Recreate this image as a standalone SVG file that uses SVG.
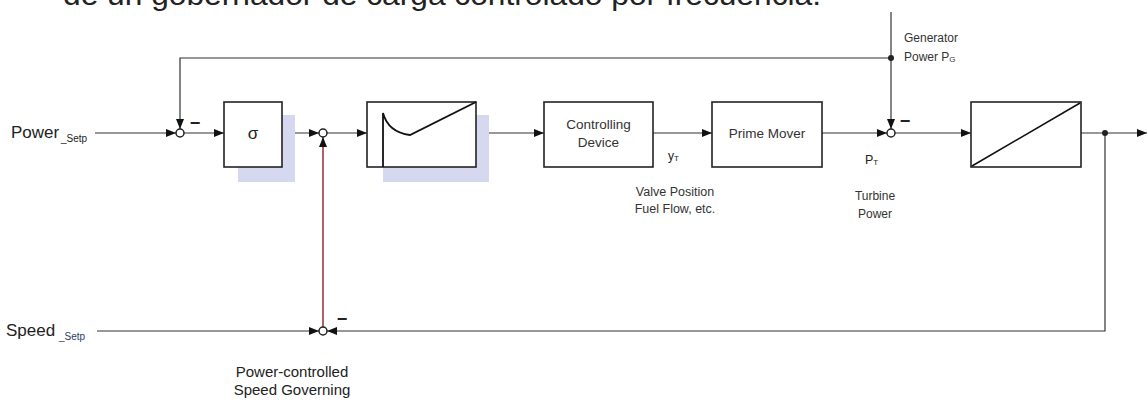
<svg xmlns="http://www.w3.org/2000/svg" width="1148" height="405" viewBox="0 0 1148 405">
<defs>
<style>
.box{fill:#fff;stroke:#222;stroke-width:1.6}
.shadow{fill:#d5d8ee}
.ln{fill:none;stroke:#333;stroke-width:1.2}
.red{fill:none;stroke:#8b1e2c;stroke-width:1.4}
.jn{fill:#fff;stroke:#222;stroke-width:1.5}
.dot{fill:#222}
.t{font-family:"Liberation Sans",Arial,sans-serif;fill:#222}
.minus{font-family:"Liberation Sans",Arial,sans-serif;fill:#222;font-size:18px;font-weight:bold;text-anchor:middle}
</style>
<marker id="ar" markerUnits="userSpaceOnUse" markerWidth="10" markerHeight="8" refX="10" refY="4" orient="auto">
<path d="M0,0 L10,4 L0,8 z" fill="#111"/>
</marker>
</defs>
<rect width="1148" height="405" fill="#fff"/>

<text class="t" x="63" y="5" font-size="30" textLength="758" lengthAdjust="spacingAndGlyphs">de un gobernador de carga controlado por frecuencia.</text>

<g id="connectors">
<path class="ln" d="M95,133 H176" marker-end="url(#ar)"/>
<path class="ln" d="M891,58 H180 V129" marker-end="url(#ar)"/>
<path class="ln" d="M184,133 H224" marker-end="url(#ar)"/>
<path class="ln" d="M282,133 H319" marker-end="url(#ar)"/>
<path class="red" d="M323,327 V137" marker-end="url(#ar)"/>
<path class="ln" d="M327,133 H367" marker-end="url(#ar)"/>
<path class="ln" d="M476,133 H544" marker-end="url(#ar)"/>
<path class="ln" d="M653,133 H712" marker-end="url(#ar)"/>
<path class="ln" d="M822,133 H887" marker-end="url(#ar)"/>
<path class="ln" d="M891,12 V129" marker-end="url(#ar)"/>
<path class="ln" d="M895,133 H971" marker-end="url(#ar)"/>
<path class="ln" d="M1081,133 H1147" marker-end="url(#ar)"/>
<path class="ln" d="M1105,133 V331 H327" marker-end="url(#ar)"/>
<path class="ln" d="M97,331 H319" marker-end="url(#ar)"/>
<circle class="dot" cx="891" cy="58" r="3"/>
<circle class="dot" cx="1105" cy="133" r="3"/>
</g>

<g id="power-setp">
<text class="t" x="11" y="138" font-size="17">Power</text>
<text class="t" x="61" y="142" font-size="10" fill="#444">_Setp</text>
</g>
<g id="speed-setp">
<text class="t" x="6" y="336" font-size="17">Speed</text>
<text class="t" x="59" y="340" font-size="10" style="fill:#2d3a66">_Setp</text>
</g>

<g id="sum1">
<circle class="jn" cx="180" cy="133" r="4"/>
<text class="minus" x="195" y="129">−</text>
</g>

<g id="sigma">
<rect class="shadow" x="238" y="115" width="57" height="67"/>
<rect class="box" x="224" y="102" width="58" height="65"/>
<text class="t" x="253" y="139" font-size="17" text-anchor="middle">σ</text>
</g>

<g id="sum2">
<circle class="jn" cx="323" cy="133" r="4"/>
</g>

<g id="transient">
<rect class="shadow" x="383" y="115" width="106" height="67"/>
<rect class="box" x="367" y="102" width="109" height="65"/>
<path fill="none" stroke="#111" stroke-width="1.8" d="M383,167 V113 C386,124 394,133 410,135 L476,102"/>
</g>

<g id="controlling-device">
<rect class="box" x="544" y="102" width="109" height="65"/>
<text class="t" x="598.5" y="129" font-size="13.5" text-anchor="middle" style="fill:#333">Controlling</text>
<text class="t" x="598.5" y="147" font-size="13.5" text-anchor="middle" style="fill:#333">Device</text>
</g>

<g id="prime-mover">
<rect class="box" x="712" y="102" width="110" height="65"/>
<text class="t" x="767" y="138" font-size="13.5" text-anchor="middle" style="fill:#333">Prime Mover</text>
</g>

<g id="sum4">
<circle class="jn" cx="891" cy="133" r="4"/>
<text class="minus" x="905" y="127">−</text>
</g>

<g id="integrator">
<rect class="box" x="971" y="102" width="110" height="65"/>
<path fill="none" stroke="#111" stroke-width="1.6" d="M972,166 L1080,103"/>
</g>

<g id="sum3">
<circle class="jn" cx="323" cy="331" r="4"/>
<text class="minus" x="342" y="325">−</text>
</g>

<g id="labels">
<text class="t" x="668" y="160" font-size="12">y<tspan font-size="8" dy="1">T</tspan></text>
<text class="t" x="675" y="196" font-size="12.5" text-anchor="middle" style="fill:#333">Valve Position</text>
<text class="t" x="675" y="213" font-size="12.5" text-anchor="middle" style="fill:#333">Fuel Flow, etc.</text>
<text class="t" x="865" y="164" font-size="12.5">P<tspan font-size="8" dy="1">T</tspan></text>
<text class="t" x="875" y="200" font-size="12" text-anchor="middle" style="fill:#333">Turbine</text>
<text class="t" x="875" y="218" font-size="12" text-anchor="middle" style="fill:#333">Power</text>
<text class="t" x="904" y="42" font-size="12" style="fill:#333">Generator</text>
<text class="t" x="904" y="61" font-size="12" style="fill:#333">Power  P<tspan font-size="8" dy="1">G</tspan></text>
<text class="t" x="292" y="377" font-size="15" text-anchor="middle">Power-controlled</text>
<text class="t" x="292" y="395" font-size="15" text-anchor="middle">Speed Governing</text>
</g>
</svg>
